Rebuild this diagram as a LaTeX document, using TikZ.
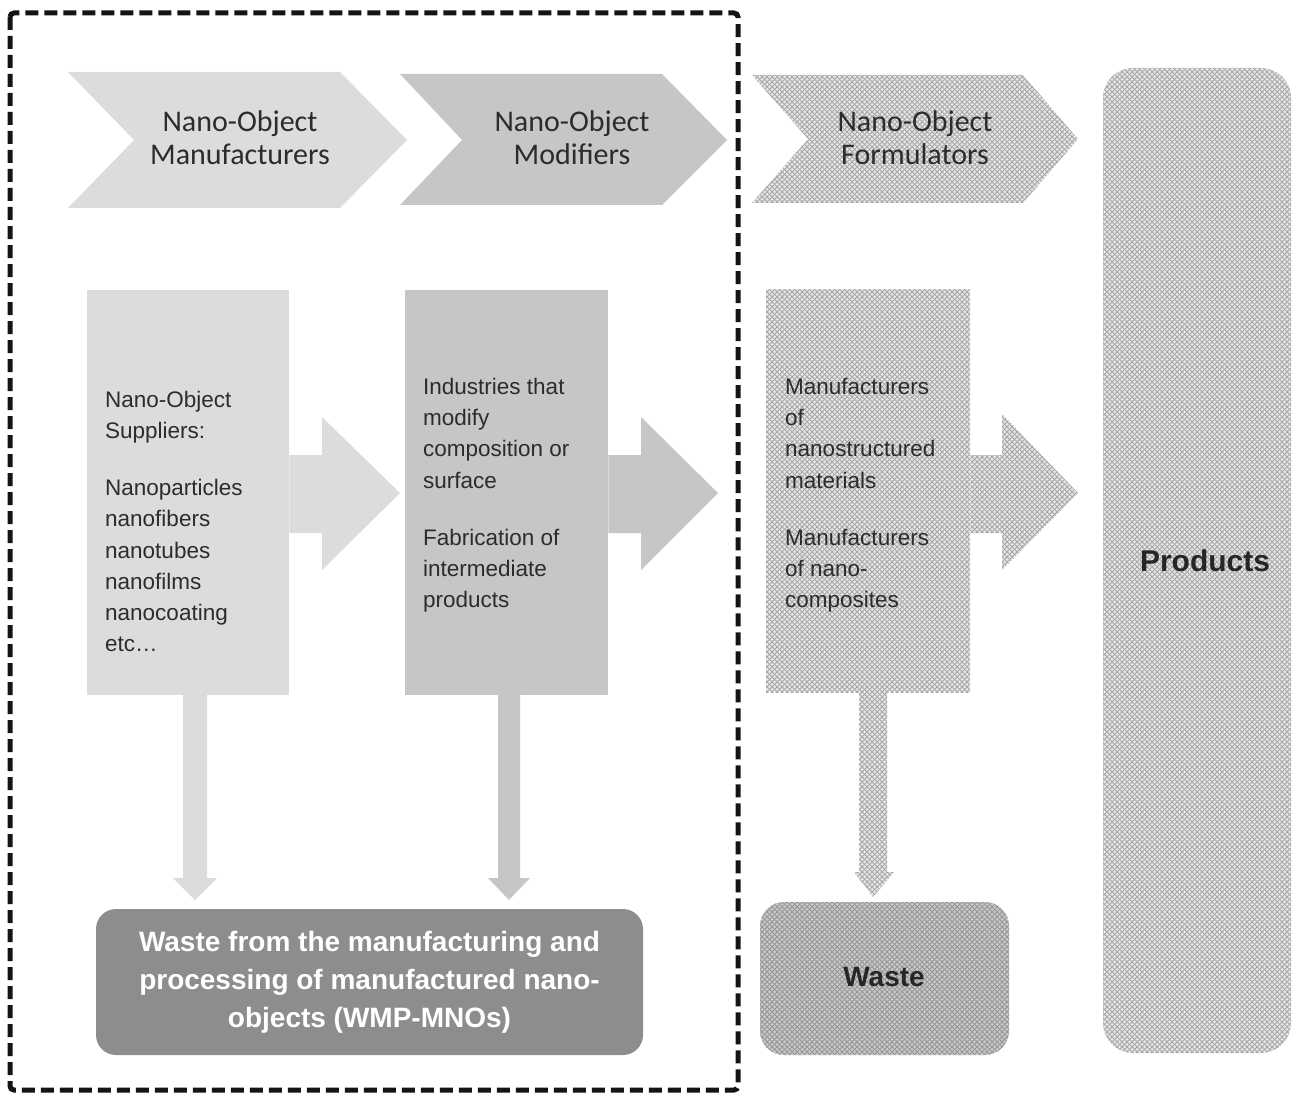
\documentclass[tikz,border=0pt]{standalone}
\usepackage{fontspec}
\setmainfont{Liberation Sans}
\newfontfamily\chevfont{Carlito}
\usetikzlibrary{patterns.meta}

\definecolor{lgray}{HTML}{DCDCDC}
\definecolor{mgray}{HTML}{C6C6C6}
\definecolor{dgray}{HTML}{8D8D8F}
\definecolor{hbg}{HTML}{E6E6E6}
\definecolor{hline}{HTML}{A6A6A6}
\definecolor{hlinedark}{HTML}{959595}
\definecolor{txt}{HTML}{2C2C2C}

\tikzdeclarepattern{
  name=xhatch,
  type=uncolored,
  bounding box={(0pt,0pt) and (5pt,5pt)},
  tile size={(5pt,5pt)},
  code={\draw[line width=1.1pt] (-1pt,-1pt)--(6pt,6pt) (-1pt,6pt)--(6pt,-1pt);}
}

\tikzset{
  hatched/.style={fill=hbg, postaction={pattern=xhatch, pattern color=hline}},
  hatcheddark/.style={fill=hbg!88!black, postaction={pattern=xhatch, pattern color=hlinedark}},
  chevtext/.style={font=\chevfont\fontsize{30}{33}\selectfont, text=txt, align=center, inner sep=0pt},
  bodytext/.style={font=\fontsize{22.5}{31.3}\selectfont, text=txt, align=left, inner sep=0pt, anchor=north west},
  boxnode/.style={minimum width=#1, minimum height=405pt, anchor=north west, inner sep=0pt, draw=none},
}

\begin{document}
\begin{tikzpicture}[x=1pt,y=-1pt]
\useasboundingbox (0,0) rectangle (1306,1094);

% ---- chevrons
\fill[lgray] (68,72) -- (340,72) -- (407,140) -- (340,208) -- (68,208) -- (134,140) -- cycle;
\fill[mgray] (400,74) -- (662,74) -- (727,140) -- (662,205) -- (400,205) -- (462,140) -- cycle;
\path[hatched] (752,75) -- (1023,75) -- (1078,139) -- (1023,203) -- (752,203) -- (808,139) -- cycle;

\node[chevtext] (c1) at (240,138) {Nano-Object\\Manufacturers};
\node[chevtext] (c2) at (572,138) {Nano-Object\\Modifiers};
\node[chevtext] (c3) at (915,138) {Nano-Object\\Formulators};

% ---- column boxes
\node[boxnode=202pt, fill=lgray] (b1) at (87,290) {};
\node[boxnode=203pt, fill=mgray] (b2) at (405,290) {};
\node[boxnode=204pt, minimum height=403pt, hatched] (b3) at (766,289) {};

% ---- block arrows to the right
\fill[lgray] (b1.east |- 0,455) -- (322,455) -- (322,417) -- (400,493) -- (322,570) -- (322,533) -- (b1.east |- 0,533) -- cycle;
\fill[mgray] (b2.east |- 0,455) -- (641,455) -- (641,417) -- (718,493) -- (641,570) -- (641,533) -- (b2.east |- 0,533) -- cycle;
\path[hatched] (b3.east |- 0,455) -- (1002,455) -- (1002,414) -- (1078,493) -- (1002,570) -- (1002,533) -- (b3.east |- 0,533) -- cycle;

% ---- block arrows downwards
\fill[lgray] (183,695) -- (207,695) -- (207,878) -- (217,878) -- (195,900) -- (173,878) -- (183,878) -- cycle;
\fill[mgray] (498,695) -- (520,695) -- (520,878) -- (530,878) -- (509,900) -- (488,878) -- (498,878) -- cycle;
\path[hatched] (859,690) -- (887,690) -- (887,872) -- (894,872) -- (873,897) -- (854,872) -- (859,872) -- cycle;

% ---- texts in the boxes
\node[bodytext] (t1) at (105,390.6) {Nano-Object\\Suppliers:\\[25.7pt]Nanoparticles\\nanofibers\\nanotubes\\nanofilms\\nanocoating\\etc\ldots};
\node[bodytext] (t2) at (423,377.6) {Industries that\\modify\\composition or\\surface\\[25.7pt]Fabrication of\\intermediate\\products};
\node[bodytext] (t3) at (785,377.9) {Manufacturers\\of\\nanostructured\\materials\\[25.7pt]Manufacturers\\of nano-\\composites};

% ---- bottom boxes
\node[fill=dgray, rounded corners=20pt, minimum width=547pt, minimum height=146pt, inner sep=0pt,
      text=white, align=center, font=\bfseries\fontsize{28}{38}\selectfont] (wmp) at (369.5,982)
      {Waste from the manufacturing and\\processing of manufactured nano-\\objects (WMP-MNOs)};
\node[hatcheddark, rounded corners=24pt, minimum width=249pt, minimum height=153pt, inner sep=0pt] (waste) at (884.5,978.5) {};
\node[text=black!85, font=\bfseries\fontsize{28}{34}\selectfont, inner sep=0pt] (wastet) at (884,977) {Waste};

\node[hatched, rounded corners=30pt, minimum width=188pt, minimum height=985pt, inner sep=0pt] (prod) at (1197,560.5) {};
\node[text=black!85, font=\bfseries\fontsize{30}{36}\selectfont, inner sep=0pt] (prodt) at (1205,561) {Products};

% ---- dashed frame
\draw[line width=5pt, dash pattern=on 13pt off 6pt, rounded corners=4pt, color=black!92] (10,13) rectangle (738,1090);
\end{tikzpicture}
\end{document}
